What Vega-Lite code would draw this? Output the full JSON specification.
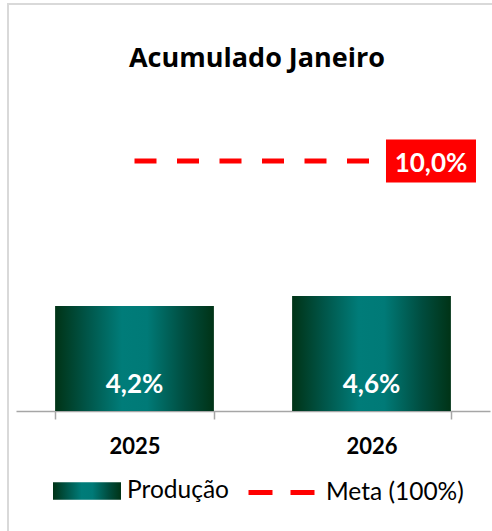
{
  "$schema": "https://vega.github.io/schema/vega-lite/v6.json",
  "usermeta": {"embedOptions": {"actions": false}},
  "autosize": {"type": "none"},
  "padding": {"left": 8, "top": 4, "right": 0, "bottom": 0},
  "width": 486,
  "height": 529,
  "title": {
    "text": "Acumulado Janeiro",
    "font": "Open Sans",
    "fontSize": 27,
    "fontWeight": "bold",
    "color": "#000000",
    "anchor": "middle",
    "baseline": "alphabetic",
    "offset": 0,
    "dy": 90,
    "dx": 6
  },
  "config": {
    "view": {"stroke": "#d9d9d9", "strokeWidth": 2},
    "font": "Lato"
  },
  "data": {
    "values": [
      {"ano": "2025", "producao": 4.2, "rotulo": "4,2%", "meta": 10, "rotulo_meta": "10,0%"},
      {"ano": "2026", "producao": 4.6, "rotulo": "4,6%", "meta": 10, "rotulo_meta": "10,0%"}
    ]
  },
  "encoding": {
    "x": {
      "field": "ano",
      "type": "nominal",
      "sort": null,
      "scale": {"range": [8, 482], "paddingInner": 0.33, "paddingOuter": 0.165},
      "axis": {
        "title": null,
        "orient": "bottom",
        "offset": -122,
        "domainColor": "#a6a6a6",
        "domainWidth": 1.5,
        "tickColor": "#a6a6a6",
        "tickWidth": 1.5,
        "tickSize": 8,
        "tickBand": "extent",
        "labelAngle": 0,
        "labelFont": "Lato",
        "labelFontSize": 22,
        "labelFontWeight": "bold",
        "labelColor": "#000000",
        "labelBaseline": "alphabetic",
        "labelPadding": 34,
        "grid": false
      }
    }
  },
  "layer": [
    {
      "mark": {"type": "bar", "opacity": 1},
      "encoding": {
        "y": {
          "field": "producao",
          "type": "quantitative",
          "scale": {"domain": [0, 10], "range": [407, 157], "nice": false, "zero": true},
          "axis": null
        },
        "fill": {
          "datum": "Produção",
          "type": "nominal",
          "scale": {
            "domain": ["Produção"],
            "range": [
              {"expr": "{gradient: 'linear', x1: 0, y1: 0, x2: 1, y2: 0, stops: [{offset: 0, color: '#003316'}, {offset: 0.2, color: '#005548'}, {offset: 0.42, color: '#007c79'}, {offset: 0.58, color: '#007a77'}, {offset: 0.82, color: '#004c3e'}, {offset: 1, color: '#003316'}]}"}
            ]
          },
          "legend": {
            "orient": "none",
            "legendX": 45,
            "legendY": 453,
            "title": null,
            "symbolType": "M-1,-0.26H1V0.26H-1Z",
            "symbolSize": 4624,
            "symbolStrokeWidth": 0,
            "symbolOpacity": 1,
            "labelFont": "Lato",
            "labelFontSize": 24.5,
            "labelColor": "#000000",
            "labelOffset": 6
          }
        }
      }
    },
    {
      "mark": {"type": "text", "color": "#ffffff", "font": "Lato", "fontSize": 26, "fontWeight": "bold", "baseline": "alphabetic", "dy": -18},
      "encoding": {
        "y": {"datum": 0, "type": "quantitative"},
        "text": {"field": "rotulo"}
      }
    },
    {
      "mark": {"type": "line", "strokeWidth": 5, "strokeDash": [22, 20.5], "strokeCap": "butt"},
      "encoding": {
        "y": {"field": "meta", "type": "quantitative"},
        "stroke": {
          "datum": "Meta (100%)",
          "type": "nominal",
          "scale": {"domain": ["Meta (100%)"], "range": ["#ff0000"]},
          "legend": {
            "orient": "none",
            "legendX": 238,
            "legendY": 453,
            "title": null,
            "symbolType": "stroke",
            "symbolSize": 4356,
            "symbolStrokeWidth": 5,
            "symbolDash": [24, 18],
            "labelFont": "Lato",
            "labelFontSize": 24.5,
            "labelColor": "#000000",
            "labelOffset": 9
          }
        }
      }
    },
    {
      "transform": [{"filter": "datum.ano === '2026'"}],
      "mark": {"type": "point", "shape": "M0.322,-0.478H2.322V0.478H0.322Z", "size": 8100, "filled": true, "fill": "#ff0000", "opacity": 1, "strokeWidth": 0},
      "encoding": {
        "y": {"field": "meta", "type": "quantitative"}
      }
    },
    {
      "transform": [{"filter": "datum.ano === '2026'"}],
      "mark": {"type": "text", "color": "#ffffff", "font": "Lato", "fontSize": 26, "fontWeight": "bold", "baseline": "alphabetic", "dx": 59.5, "dy": 11},
      "encoding": {
        "y": {"field": "meta", "type": "quantitative"},
        "text": {"field": "rotulo_meta"}
      }
    }
  ]
}
